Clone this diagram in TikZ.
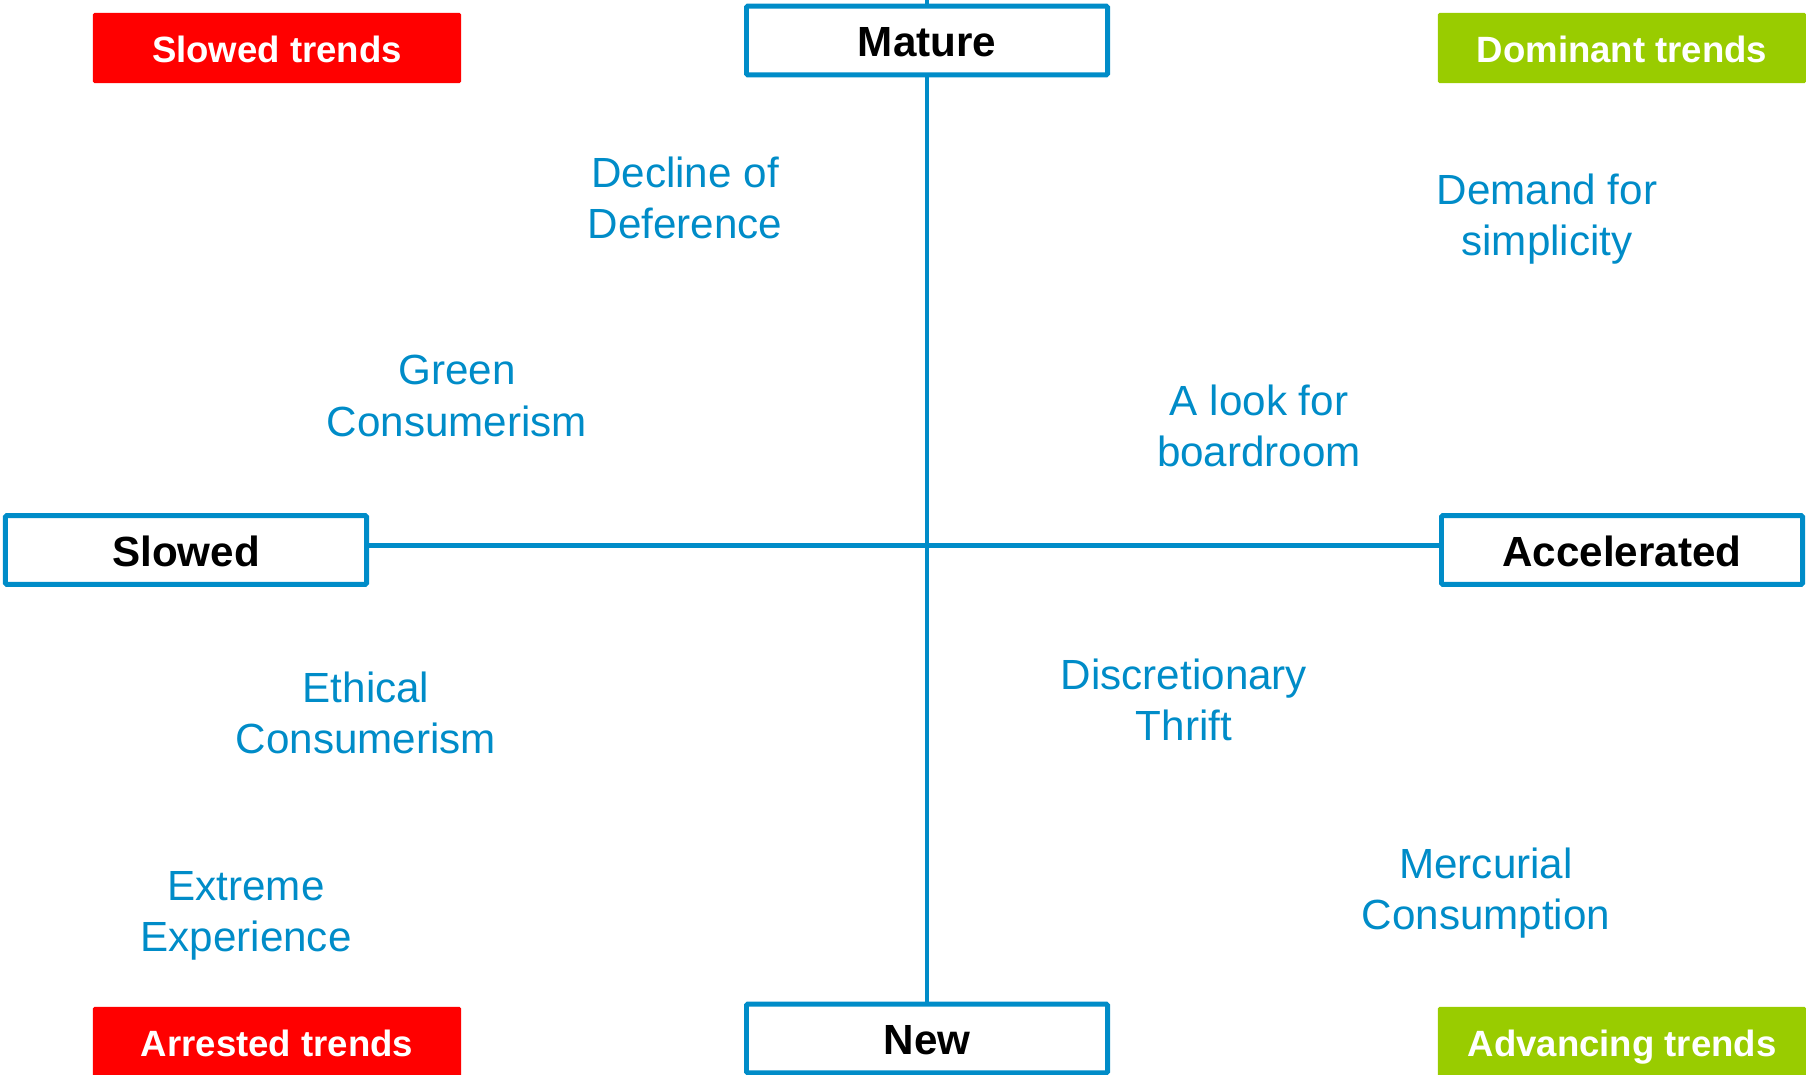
\documentclass[tikz,border=0pt]{standalone}
\usepackage{fontspec}
\setmainfont{Liberation Sans}
\usepackage{xcolor}
\usetikzlibrary{positioning}
\definecolor{axisblue}{RGB}{0,140,200}
\definecolor{slowred}{RGB}{255,0,0}
\definecolor{fastgreen}{RGB}{153,204,0}

\begin{document}
\begin{tikzpicture}[x=0.025cm, y=-0.025cm,
    axisbox/.style={draw=axisblue, line width=3.5pt, fill=white, rounded corners=1pt,
        minimum width=9.025cm, minimum height=1.72cm, inner sep=0pt,
        text height=23pt, text depth=0pt,
        font=\fontsize{30}{36}\selectfont\bfseries},
    trendbox/.style={fill=#1, text=white, rounded corners=1pt,
        minimum width=9.2cm, minimum height=1.75cm, inner sep=0pt,
        text height=20pt, text depth=0pt,
        font=\fontsize{26}{31}\selectfont\bfseries},
    trendtext/.style={text=axisblue, align=center, inner sep=0pt,
        font=\fontsize{30}{36.5}\selectfont},
    axisline/.style={draw=axisblue, line width=3.5pt}]
                        \useasboundingbox (0, 0) rectangle (1806, 1075);
                        \clip (0, 0) rectangle (1806, 1075);
                        \node[trendbox=slowred] (slowedtr) at (277, 48) {Slowed trends};
                        \node[trendbox=fastgreen] (dominant) at (1622, 48) {Dominant trends};
                        \node[trendbox=slowred] (arrested) at (277, 1042) {Arrested trends};
                        \node[trendbox=fastgreen] (advancing) at (1622, 1042) {Advancing trends};
                        \coordinate (top) at (927, 0);
                        \node[axisbox] (mature) at (927, 40.5) {Mature};
                        \node[axisbox] (new) at (927, 1038.5) {New};
                        \node[axisbox] (slowed) at (186, 550) {Slowed};
                        \node[axisbox] (accel) at (1622, 550) {Accelerated};
                        \draw[axisline] (top) -- (mature);
                        \draw[axisline] (mature) -- (new);
                        \draw[axisline] ([yshift=3.5pt]slowed.east) -- ([yshift=3.5pt]accel.west);
                        \node[trendtext] (decline) at (685, 198) {Decline of\\Deference};
                        \node[trendtext] (green) at (457, 396) {Green\\Consumerism};
                        \node[trendtext] (demand) at (1547, 219) {Demand for\\simplicity};
                        \node[trendtext] (boardroom) at (1259, 426) {A look for\\boardroom};
                        \node[trendtext] (ethical) at (366, 713) {Ethical\\Consumerism};
                        \node[trendtext] (thrift) at (1184, 700) {Discretionary\\Thrift};
                        \node[trendtext] (extreme) at (246, 916) {Extreme\\Experience};
                        \node[trendtext] (mercurial) at (1486, 893) {Mercurial\\Consumption};
                    \end{tikzpicture}
\end{document}
